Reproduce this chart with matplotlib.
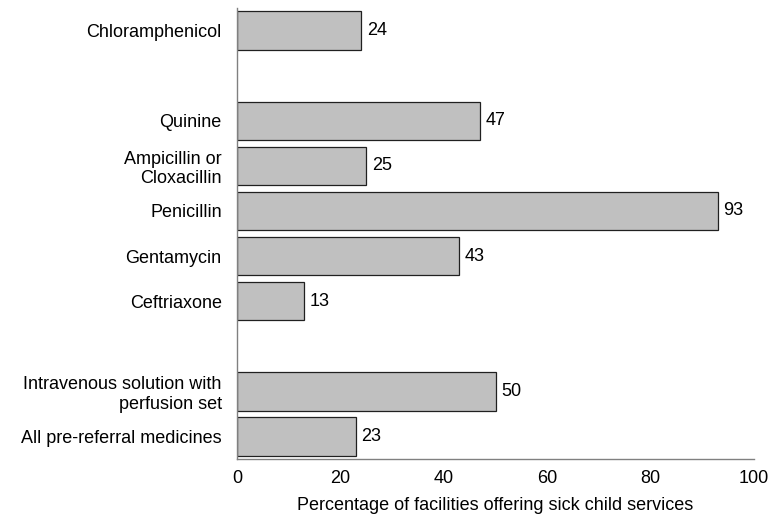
import matplotlib.pyplot as plt

plt.rcParams['font.family'] = ['Liberation Sans', 'DejaVu Sans']

# 药品名称与百分比
labels = ['Chloramphenicol', 'Quinine', 'Ampicillin or\nCloxacillin', 'Penicillin',
          'Gentamycin', 'Ceftriaxone', 'Intravenous solution with\nperfusion set',
          'All pre-referral medicines']
values = [24, 47, 25, 93, 43, 13, 50, 23]
slots = [0, 2, 3, 4, 5, 6, 8, 9]  # 分组之间留空

fig = plt.figure(figsize=(7.71, 5.16), dpi=100)
ax = fig.add_axes([237 / 771, 1 - 459 / 516, (754 - 237) / 771, (459 - 8) / 516])

ax.barh(slots, values, height=0.85, color='#c0c0c0', edgecolor='#202020', linewidth=0.9)
for s, v in zip(slots, values):
    ax.text(v + 1.1, s, str(v), va='center', ha='left', fontsize=13)

ax.set_yticks(slots)
ax.set_yticklabels(labels, fontsize=13, ha='right', multialignment='right', linespacing=1.2)
ax.set_ylim(9.5, -0.5)
ax.set_xlim(0, 100)
ax.set_xticks([0, 20, 40, 60, 80, 100])
ax.tick_params(axis='both', length=0, labelsize=13)
ax.tick_params(axis='y', pad=11)
ax.tick_params(axis='x', pad=8)
ax.set_xlabel('Percentage of facilities offering sick child services', fontsize=13, labelpad=7)

for sp in ['top', 'right']:
    ax.spines[sp].set_visible(False)
for sp in ['left', 'bottom']:
    ax.spines[sp].set_color('#808080')
    ax.spines[sp].set_linewidth(1)

fig.savefig('out.png', dpi=100)
